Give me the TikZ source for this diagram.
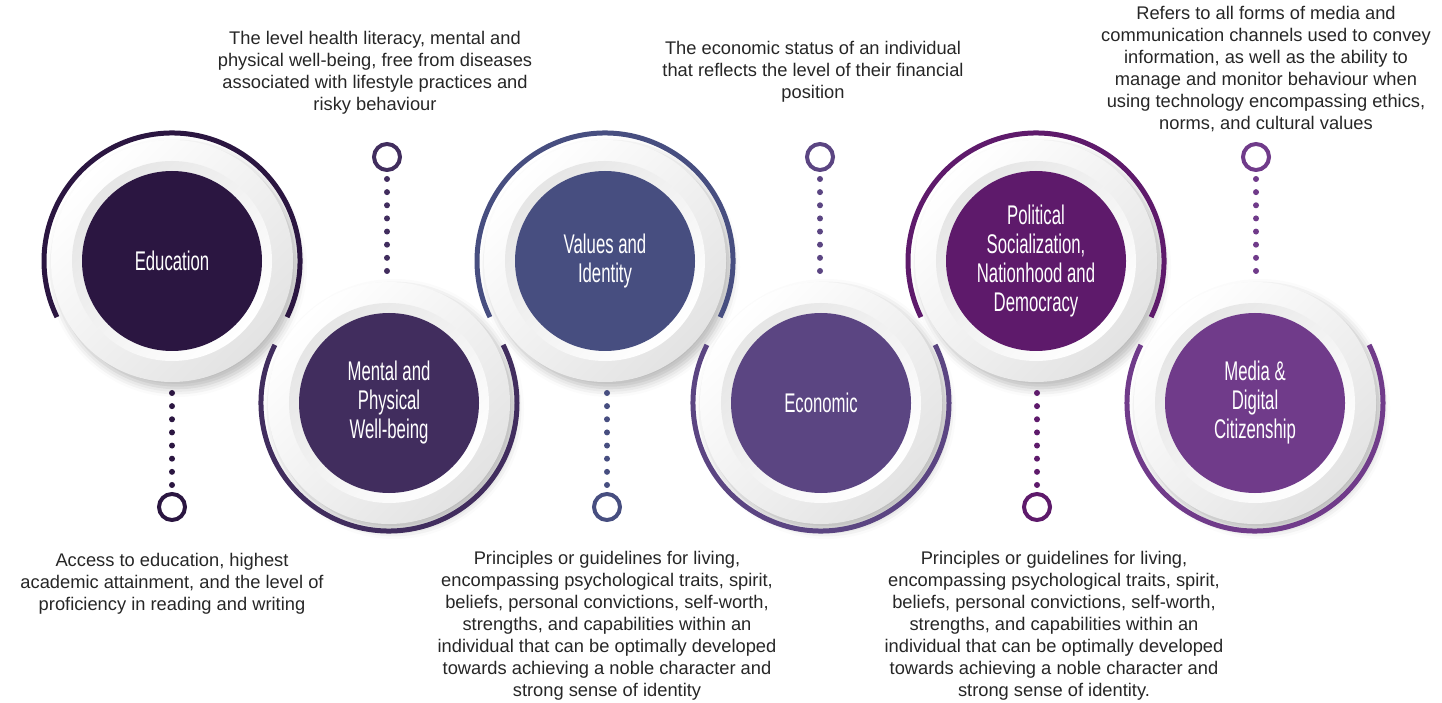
\documentclass[tikz,border=0pt]{standalone}
\usepackage{fontspec}
\setmainfont{Liberation Sans}
\newfontfamily\handfont[FakeStretch=0.62]{Liberation Sans}
\usetikzlibrary{positioning,shadows.blur}
\definecolor{eduC}{HTML}{2B1641}
\definecolor{menC}{HTML}{412D5E}
\definecolor{valC}{HTML}{474E80}
\definecolor{ecoC}{HTML}{5B4582}
\definecolor{polC}{HTML}{5E1A6B}
\definecolor{medC}{HTML}{703B8A}
\tikzset{
  plate/.style={circle, minimum size=242pt, inner sep=0pt, top color=white, bottom color=black!11, shading angle=45,
    blur shadow={shadow xshift=5pt, shadow yshift=-6pt, shadow blur radius=9pt, shadow opacity=28}},
  rim/.style={circle, minimum size=200pt, inner sep=0pt, top color=black!10, bottom color=white, shading angle=45},
  core/.style={circle, minimum size=180pt, inner sep=0pt, text=white, align=center,
    font=\handfont\fontsize{27}{29}\selectfont},
  halo/.style={line width=5pt},
  pin/.style={circle, draw, line width=4pt, minimum size=26pt, inner sep=0pt, outer sep=0pt},
  dots/.style={line width=6pt, line cap=round, dash pattern=on 0pt off 13.14pt},
  note/.style={align=center, text=black!85, font=\fontsize{18.3}{22}\selectfont}
}
\begin{document}
\begin{tikzpicture}[x=1pt,y=1pt]
\useasboundingbox (0,0) rectangle (1442,702);
% Education
\node[plate] at (172,441) {};
\node[rim] at (172,441) {};
\node[core, fill=eduC] (edu) at (172,441) {Education};
\draw[halo, eduC] ([shift={(-26:128pt)}]edu.center) arc[start angle=-26, end angle=206, radius=128pt];
% Mental and Physical Well-being
\node[plate] at (389,299) {};
\node[rim] at (389,299) {};
\node[core, fill=menC] (men) at (389,299) {Mental and\\Physical\\Well-being};
\draw[halo, menC] ([shift={(153:128pt)}]men.center) arc[start angle=153, end angle=387, radius=128pt];
% Values and Identity
\node[plate] at (605,441) {};
\node[rim] at (605,441) {};
\node[core, fill=valC] (val) at (605,441) {Values and\\Identity};
\draw[halo, valC] ([shift={(-26:128pt)}]val.center) arc[start angle=-26, end angle=206, radius=128pt];
% Economic
\node[plate] at (821,299) {};
\node[rim] at (821,299) {};
\node[core, fill=ecoC] (eco) at (821,299) {Economic};
\draw[halo, ecoC] ([shift={(153:128pt)}]eco.center) arc[start angle=153, end angle=387, radius=128pt];
% Political Socialization
\node[plate] at (1036,441) {};
\node[rim] at (1036,441) {};
\node[core, fill=polC] (pol) at (1036,441) {Political\\Socialization,\\Nationhood and\\Democracy};
\draw[halo, polC] ([shift={(-26:128pt)}]pol.center) arc[start angle=-26, end angle=206, radius=128pt];
% Media & Digital Citizenship
\node[plate] at (1255,299) {};
\node[rim] at (1255,299) {};
\node[core, fill=medC] (med) at (1255,299) {Media \&\\Digital\\Citizenship};
\draw[halo, medC] ([shift={(153:128pt)}]med.center) arc[start angle=153, end angle=387, radius=128pt];

% pins and dotted stems
\node[pin, eduC] (edupin) at (172,195) {};
\node[pin, menC] (menpin) at (387,545) {};
\node[pin, valC] (valpin) at (607,195) {};
\node[pin, ecoC] (ecopin) at (820,545) {};
\node[pin, polC] (polpin) at (1037,195) {};
\node[pin, medC] (medpin) at (1256,545) {};
\coordinate (edutail) at (172,309);
\coordinate (mentail) at (387,429);
\coordinate (valtail) at (607,309);
\coordinate (ecotail) at (820,429);
\coordinate (poltail) at (1037,309);
\coordinate (medtail) at (1256,429);
\draw[dots, eduC] (edutail) -- ([yshift=9pt]edupin.north);
\draw[dots, menC] ([yshift=-9pt]menpin.south) -- (mentail);
\draw[dots, valC] (valtail) -- ([yshift=9pt]valpin.north);
\draw[dots, ecoC] ([yshift=-9pt]ecopin.south) -- (ecotail);
\draw[dots, polC] (poltail) -- ([yshift=9pt]polpin.north);
\draw[dots, medC] ([yshift=-9pt]medpin.south) -- (medtail);

% descriptions
\node[note] (edutext) at (172,118) {Access to education, highest\\academic attainment, and the level of\\proficiency in reading and writing};
\node[note] (mentext) at (375,629) {The level health literacy, mental and\\physical well-being, free from diseases\\associated with lifestyle practices and\\risky behaviour};
\node[note] (valtext) at (607,76) {Principles or guidelines for living,\\encompassing psychological traits, spirit,\\beliefs, personal convictions, self-worth,\\strengths, and capabilities within an\\individual that can be optimally developed\\towards achieving a noble character and\\strong sense of identity};
\node[note] (ecotext) at (813,630) {The economic status of an individual\\that reflects the level of their financial\\position};
\node[note] (poltext) at (1054,76) {Principles or guidelines for living,\\encompassing psychological traits, spirit,\\beliefs, personal convictions, self-worth,\\strengths, and capabilities within an\\individual that can be optimally developed\\towards achieving a noble character and\\strong sense of identity.};
\node[note] (medtext) at (1266,633) {Refers to all forms of media and\\communication channels used to convey\\information, as well as the ability to\\manage and monitor behaviour when\\using technology encompassing ethics,\\norms, and cultural values};
\end{tikzpicture}
\end{document}
